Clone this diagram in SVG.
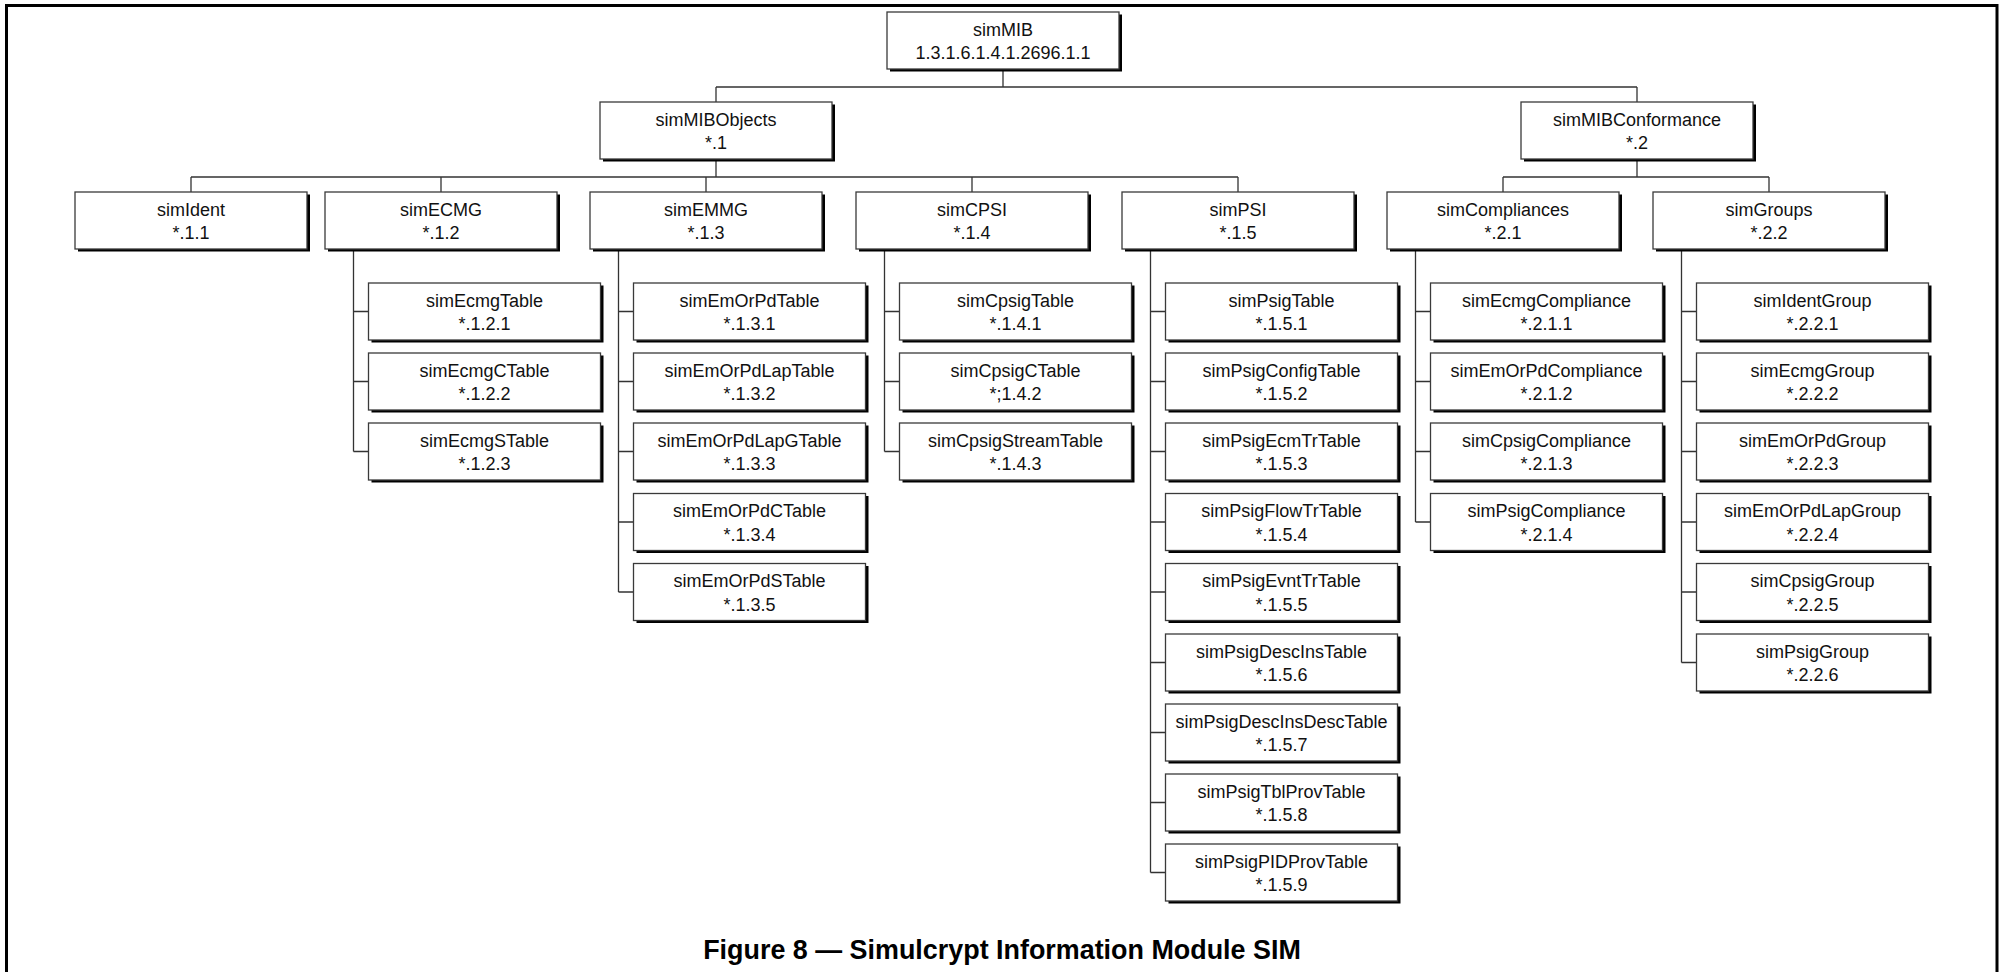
<svg xmlns="http://www.w3.org/2000/svg" xmlns:xlink="http://www.w3.org/1999/xlink" width="2002" height="972" viewBox="0 0 2002 972">
  <style>
    .bx { fill: #ffffff; stroke: #3a3a3a; stroke-width: 1.3; }
    .sh { fill: #000000; }
    .wire { fill: none; stroke: #333333; stroke-width: 1.3; }
    .frame { fill: none; stroke: #000000; stroke-width: 3; }
    text { font-family: "Liberation Sans", Arial, Helvetica, sans-serif; font-size: 18px; fill: #111111; text-anchor: middle; }
    .title { font-size: 26.9px; font-weight: bold; fill: #000000; }
  </style>
  <defs>
    <!-- one tree node: drop shadow + white box, 232 x 57 -->
    <g id="card">
      <rect class="sh" x="3" y="2.5" width="232" height="57"/>
      <rect class="bx" x="0" y="0" width="232" height="57"/>
    </g>
  </defs>

  <rect width="2002" height="972" fill="#ffffff"/>
  <!-- outer frame, open at the bottom -->
  <path class="frame" d="M6.5,972 V5.5 H1997 V972"/>

  <!-- connectors -->
  <g id="connectors" class="wire">
    <!-- root to level 2 -->
    <path d="M1003,69 V87 M716,87 H1637 M716,87 V102 M1637,87 V102"/>
    <!-- simMIBObjects to its branches -->
    <path d="M716,159 V177 M191,177 H1238 M191,177 V192 M441,177 V192 M706,177 V192 M972,177 V192 M1238,177 V192"/>
    <!-- simMIBConformance to its branches -->
    <path d="M1637,159 V177 M1503,177 H1769 M1503,177 V192 M1769,177 V192"/>
    <!-- simECMG tables -->
    <path d="M353.5,249 V451.5 M353.5,311.5 H368.5 M353.5,381.5 H368.5 M353.5,451.5 H368.5"/>
    <!-- simEMMG tables -->
    <path d="M618.5,249 V592 M618.5,311.5 H633.5 M618.5,381.5 H633.5 M618.5,451.5 H633.5 M618.5,522 H633.5 M618.5,592 H633.5"/>
    <!-- simCPSI tables -->
    <path d="M884.5,249 V451.5 M884.5,311.5 H899.5 M884.5,381.5 H899.5 M884.5,451.5 H899.5"/>
    <!-- simPSI tables -->
    <path d="M1150.5,249 V872.5 M1150.5,311.5 H1165.5 M1150.5,381.5 H1165.5 M1150.5,451.5 H1165.5 M1150.5,522 H1165.5 M1150.5,592 H1165.5 M1150.5,662.5 H1165.5 M1150.5,732.5 H1165.5 M1150.5,802.5 H1165.5 M1150.5,872.5 H1165.5"/>
    <!-- simCompliances -->
    <path d="M1415.5,249 V522 M1415.5,311.5 H1430.5 M1415.5,381.5 H1430.5 M1415.5,451.5 H1430.5 M1415.5,522 H1430.5"/>
    <!-- simGroups -->
    <path d="M1681.5,249 V662.5 M1681.5,311.5 H1696.5 M1681.5,381.5 H1696.5 M1681.5,451.5 H1696.5 M1681.5,522 H1696.5 M1681.5,592 H1696.5 M1681.5,662.5 H1696.5"/>
  </g>

  <!-- level 1 -->
  <g id="simMIB" transform="translate(887,12)"><use xlink:href="#card"/><text x="116" y="23.5">simMIB</text><text x="116" y="47">1.3.1.6.1.4.1.2696.1.1</text></g>

  <!-- level 2 -->
  <g id="simMIBObjects" transform="translate(600,102)"><use xlink:href="#card"/><text x="116" y="23.5">simMIBObjects</text><text x="116" y="47">*.1</text></g>
  <g id="simMIBConformance" transform="translate(1521,102)"><use xlink:href="#card"/><text x="116" y="23.5">simMIBConformance</text><text x="116" y="47">*.2</text></g>

  <!-- level 3 -->
  <g id="simIdent" transform="translate(75,192)"><use xlink:href="#card"/><text x="116" y="23.5">simIdent</text><text x="116" y="47">*.1.1</text></g>
  <g id="simECMG" transform="translate(325,192)"><use xlink:href="#card"/><text x="116" y="23.5">simECMG</text><text x="116" y="47">*.1.2</text></g>
  <g id="simEMMG" transform="translate(590,192)"><use xlink:href="#card"/><text x="116" y="23.5">simEMMG</text><text x="116" y="47">*.1.3</text></g>
  <g id="simCPSI" transform="translate(856,192)"><use xlink:href="#card"/><text x="116" y="23.5">simCPSI</text><text x="116" y="47">*.1.4</text></g>
  <g id="simPSI" transform="translate(1122,192)"><use xlink:href="#card"/><text x="116" y="23.5">simPSI</text><text x="116" y="47">*.1.5</text></g>
  <g id="simCompliances" transform="translate(1387,192)"><use xlink:href="#card"/><text x="116" y="23.5">simCompliances</text><text x="116" y="47">*.2.1</text></g>
  <g id="simGroups" transform="translate(1653,192)"><use xlink:href="#card"/><text x="116" y="23.5">simGroups</text><text x="116" y="47">*.2.2</text></g>

  <!-- simECMG tables -->
  <g id="simEcmgTable" transform="translate(368.5,283)"><use xlink:href="#card"/><text x="116" y="23.5">simEcmgTable</text><text x="116" y="47">*.1.2.1</text></g>
  <g id="simEcmgCTable" transform="translate(368.5,353)"><use xlink:href="#card"/><text x="116" y="23.5">simEcmgCTable</text><text x="116" y="47">*.1.2.2</text></g>
  <g id="simEcmgSTable" transform="translate(368.5,423)"><use xlink:href="#card"/><text x="116" y="23.5">simEcmgSTable</text><text x="116" y="47">*.1.2.3</text></g>

  <!-- simEMMG tables -->
  <g id="simEmOrPdTable" transform="translate(633.5,283)"><use xlink:href="#card"/><text x="116" y="23.5">simEmOrPdTable</text><text x="116" y="47">*.1.3.1</text></g>
  <g id="simEmOrPdLapTable" transform="translate(633.5,353)"><use xlink:href="#card"/><text x="116" y="23.5">simEmOrPdLapTable</text><text x="116" y="47">*.1.3.2</text></g>
  <g id="simEmOrPdLapGTable" transform="translate(633.5,423)"><use xlink:href="#card"/><text x="116" y="23.5">simEmOrPdLapGTable</text><text x="116" y="47">*.1.3.3</text></g>
  <g id="simEmOrPdCTable" transform="translate(633.5,493.5)"><use xlink:href="#card"/><text x="116" y="23.5">simEmOrPdCTable</text><text x="116" y="47">*.1.3.4</text></g>
  <g id="simEmOrPdSTable" transform="translate(633.5,563.5)"><use xlink:href="#card"/><text x="116" y="23.5">simEmOrPdSTable</text><text x="116" y="47">*.1.3.5</text></g>

  <!-- simCPSI tables -->
  <g id="simCpsigTable" transform="translate(899.5,283)"><use xlink:href="#card"/><text x="116" y="23.5">simCpsigTable</text><text x="116" y="47">*.1.4.1</text></g>
  <g id="simCpsigCTable" transform="translate(899.5,353)"><use xlink:href="#card"/><text x="116" y="23.5">simCpsigCTable</text><text x="116" y="47">*;1.4.2</text></g>
  <g id="simCpsigStreamTable" transform="translate(899.5,423)"><use xlink:href="#card"/><text x="116" y="23.5">simCpsigStreamTable</text><text x="116" y="47">*.1.4.3</text></g>

  <!-- simPSI tables -->
  <g id="simPsigTable" transform="translate(1165.5,283)"><use xlink:href="#card"/><text x="116" y="23.5">simPsigTable</text><text x="116" y="47">*.1.5.1</text></g>
  <g id="simPsigConfigTable" transform="translate(1165.5,353)"><use xlink:href="#card"/><text x="116" y="23.5">simPsigConfigTable</text><text x="116" y="47">*.1.5.2</text></g>
  <g id="simPsigEcmTrTable" transform="translate(1165.5,423)"><use xlink:href="#card"/><text x="116" y="23.5">simPsigEcmTrTable</text><text x="116" y="47">*.1.5.3</text></g>
  <g id="simPsigFlowTrTable" transform="translate(1165.5,493.5)"><use xlink:href="#card"/><text x="116" y="23.5">simPsigFlowTrTable</text><text x="116" y="47">*.1.5.4</text></g>
  <g id="simPsigEvntTrTable" transform="translate(1165.5,563.5)"><use xlink:href="#card"/><text x="116" y="23.5">simPsigEvntTrTable</text><text x="116" y="47">*.1.5.5</text></g>
  <g id="simPsigDescInsTable" transform="translate(1165.5,634)"><use xlink:href="#card"/><text x="116" y="23.5">simPsigDescInsTable</text><text x="116" y="47">*.1.5.6</text></g>
  <g id="simPsigDescInsDescTable" transform="translate(1165.5,704)"><use xlink:href="#card"/><text x="116" y="23.5">simPsigDescInsDescTable</text><text x="116" y="47">*.1.5.7</text></g>
  <g id="simPsigTblProvTable" transform="translate(1165.5,774)"><use xlink:href="#card"/><text x="116" y="23.5">simPsigTblProvTable</text><text x="116" y="47">*.1.5.8</text></g>
  <g id="simPsigPIDProvTable" transform="translate(1165.5,844)"><use xlink:href="#card"/><text x="116" y="23.5">simPsigPIDProvTable</text><text x="116" y="47">*.1.5.9</text></g>

  <!-- compliances -->
  <g id="simEcmgCompliance" transform="translate(1430.5,283)"><use xlink:href="#card"/><text x="116" y="23.5">simEcmgCompliance</text><text x="116" y="47">*.2.1.1</text></g>
  <g id="simEmOrPdCompliance" transform="translate(1430.5,353)"><use xlink:href="#card"/><text x="116" y="23.5">simEmOrPdCompliance</text><text x="116" y="47">*.2.1.2</text></g>
  <g id="simCpsigCompliance" transform="translate(1430.5,423)"><use xlink:href="#card"/><text x="116" y="23.5">simCpsigCompliance</text><text x="116" y="47">*.2.1.3</text></g>
  <g id="simPsigCompliance" transform="translate(1430.5,493.5)"><use xlink:href="#card"/><text x="116" y="23.5">simPsigCompliance</text><text x="116" y="47">*.2.1.4</text></g>

  <!-- groups -->
  <g id="simIdentGroup" transform="translate(1696.5,283)"><use xlink:href="#card"/><text x="116" y="23.5">simIdentGroup</text><text x="116" y="47">*.2.2.1</text></g>
  <g id="simEcmgGroup" transform="translate(1696.5,353)"><use xlink:href="#card"/><text x="116" y="23.5">simEcmgGroup</text><text x="116" y="47">*.2.2.2</text></g>
  <g id="simEmOrPdGroup" transform="translate(1696.5,423)"><use xlink:href="#card"/><text x="116" y="23.5">simEmOrPdGroup</text><text x="116" y="47">*.2.2.3</text></g>
  <g id="simEmOrPdLapGroup" transform="translate(1696.5,493.5)"><use xlink:href="#card"/><text x="116" y="23.5">simEmOrPdLapGroup</text><text x="116" y="47">*.2.2.4</text></g>
  <g id="simCpsigGroup" transform="translate(1696.5,563.5)"><use xlink:href="#card"/><text x="116" y="23.5">simCpsigGroup</text><text x="116" y="47">*.2.2.5</text></g>
  <g id="simPsigGroup" transform="translate(1696.5,634)"><use xlink:href="#card"/><text x="116" y="23.5">simPsigGroup</text><text x="116" y="47">*.2.2.6</text></g>

  <!-- caption -->
  <text class="title" x="1002" y="959">Figure 8 — Simulcrypt Information Module SIM</text>
</svg>
